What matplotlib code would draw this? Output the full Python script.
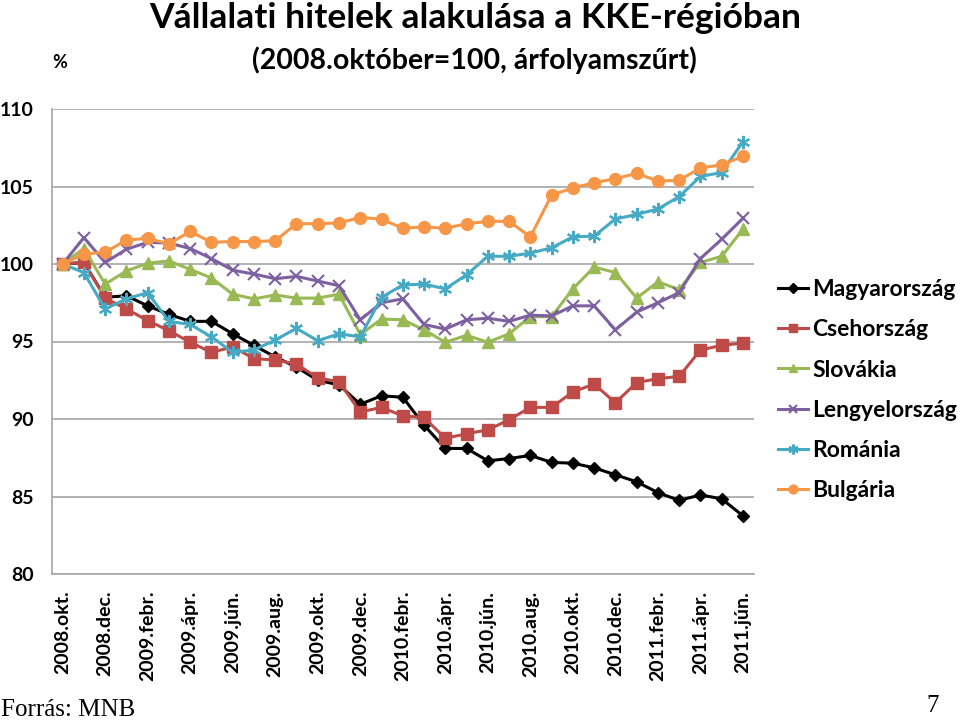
import matplotlib
matplotlib.use("Agg")
import matplotlib.pyplot as plt
import numpy as np

# havi adatok, 2008.okt. - 2011.jún. (33 hónap)
months = ['2008.okt.', '2008.nov.', '2008.dec.',
          '2009.jan.', '2009.febr.', '2009.márc.', '2009.ápr.', '2009.máj.', '2009.jún.',
          '2009.júl.', '2009.aug.', '2009.szept.', '2009.okt.', '2009.nov.', '2009.dec.',
          '2010.jan.', '2010.febr.', '2010.márc.', '2010.ápr.', '2010.máj.', '2010.jún.',
          '2010.júl.', '2010.aug.', '2010.szept.', '2010.okt.', '2010.nov.', '2010.dec.',
          '2011.jan.', '2011.febr.', '2011.márc.', '2011.ápr.', '2011.máj.', '2011.jún.']

hu = [100.0, 100.1, 97.85, 97.95, 97.3, 96.75, 96.3, 96.3, 95.5, 94.75, 94.0,
      93.35, 92.5, 92.2, 90.95, 91.5, 91.4, 89.6, 88.1, 88.1, 87.3, 87.45,
      87.65, 87.2, 87.15, 86.85, 86.4, 85.95, 85.25, 84.75, 85.1, 84.85, 83.75]
cz = [100.0, 100.1, 97.8, 97.1, 96.35, 95.7, 94.95, 94.3, 94.65, 93.9, 93.8,
      93.55, 92.65, 92.4, 90.45, 90.75, 90.2, 90.1, 88.75, 89.05, 89.3, 89.95,
      90.75, 90.75, 91.75, 92.25, 91.05, 92.35, 92.6, 92.75, 94.45, 94.75, 94.9]
sk = [100.0, 101.0, 98.7, 99.55, 100.05, 100.2, 99.65, 99.1, 98.05, 97.75, 98.0,
      97.8, 97.8, 98.05, 95.45, 96.45, 96.4, 95.75, 94.95, 95.4, 94.95, 95.5,
      96.6, 96.6, 98.4, 99.8, 99.45, 97.8, 98.85, 98.35, 100.1, 100.5, 102.25]
pl = [100.0, 101.7, 100.1, 100.95, 101.4, 101.35, 101.0, 100.35, 99.6, 99.35, 99.05,
      99.2, 98.9, 98.6, 96.4, 97.5, 97.75, 96.1, 95.8, 96.4, 96.5, 96.3,
      96.7, 96.65, 97.3, 97.3, 95.75, 96.9, 97.5, 98.15, 100.35, 101.6, 102.95]
ro = [100.0, 99.45, 97.1, 97.75, 98.15, 96.3, 96.1, 95.3, 94.3, 94.45, 95.1,
      95.85, 95.05, 95.5, 95.3, 97.85, 98.65, 98.7, 98.4, 99.3, 100.5, 100.5,
      100.7, 101.05, 101.75, 101.8, 102.9, 103.2, 103.55, 104.35, 105.65, 105.9, 107.9]
bg = [100.0, 100.65, 100.75, 101.55, 101.65, 101.3, 102.1, 101.4, 101.45, 101.45, 101.5,
      102.6, 102.6, 102.65, 103.0, 102.9, 102.3, 102.4, 102.3, 102.6, 102.75, 102.75,
      101.75, 104.45, 104.9, 105.25, 105.5, 105.85, 105.35, 105.4, 106.2, 106.4, 106.95]

names = ['Magyarország', 'Csehország', 'Slovákia', 'Lengyelország', 'Románia', 'Bulgária']
colors = ['#000000', '#BE4B48', '#98B954', '#7D60A0', '#46AAC5', '#F79646']
markers = ['D', 's', '^', 'x', (6, 2, 0), 'o']
msizes = [6.5, 8.5, 8.5, 8.5, 9.5, 8.5]

plt.rcParams['font.family'] = ['Lato', 'DejaVu Sans']

fig = plt.figure(figsize=(9.6, 7.21), dpi=100)
ax = fig.add_axes([52 / 960, 1 - 574 / 721, (753.6 - 52) / 960, (574 - 109) / 721])

x = np.arange(len(months))
for vals, nm, c, m, ms in zip([hu, cz, sk, pl, ro, bg], names, colors, markers, msizes):
    ax.plot(x, vals, color=c, lw=2.2, marker=m, markersize=ms,
            markeredgewidth=1.5 if m == 'x' or isinstance(m, tuple) else 1,
            markerfacecolor=c, markeredgecolor=c, label=nm)

ax.set_xlim(-0.5, len(months) - 0.5)
ax.set_ylim(80, 110)
ax.set_yticks(np.arange(80, 111, 5))
ax.set_xticks(x[::2])
ax.set_xticklabels(months[::2], rotation=90, fontsize=14, fontweight='bold')
ax.tick_params(axis='x', length=0, pad=12)
ax.tick_params(axis='y', length=0, pad=13, labelsize=14)
for lab in ax.get_yticklabels():
    lab.set_fontweight('bold')
ax.grid(axis='y', color='#A6A6A6', lw=1.2)
ax.set_axisbelow(True)
for s in ['top', 'right']:
    ax.spines[s].set_visible(False)
ax.spines['left'].set_color('#A6A6A6')
ax.spines['bottom'].set_color('#A6A6A6')
ax.spines['left'].set_linewidth(1.2)
ax.spines['bottom'].set_linewidth(1.2)

leg = ax.legend(loc='upper left', bbox_to_anchor=(778 / 960, 1 - 279 / 721),
                bbox_transform=fig.transFigure, frameon=False,
                prop={'size': 16.5, 'weight': 'bold'}, handlelength=1.3,
                handletextpad=0.2, labelspacing=0.84, borderpad=0, borderaxespad=0,
                markerscale=0.75)

fig.text(475 / 960, 1 - 18 / 721, 'Vállalati hitelek alakulása a KKE-régióban',
         ha='center', va='center', fontsize=25.5, fontweight='bold')
fig.text(474 / 960, 1 - 60 / 721, '(2008.október=100, árfolyamszűrt)',
         ha='center', va='center', fontsize=20.5, fontweight='bold')
fig.text(52 / 960, 1 - 63 / 721, '%', ha='left', va='center', fontsize=13, fontweight='bold')
fig.text(1 / 960, 1 - 710 / 721, 'Forrás: MNB', ha='left', va='center',
         fontsize=18, family='Liberation Serif')
fig.text(933 / 960, 1 - 706 / 721, '7', ha='center', va='center',
         fontsize=18, family='Liberation Serif')

fig.savefig('out.png', dpi=100)
